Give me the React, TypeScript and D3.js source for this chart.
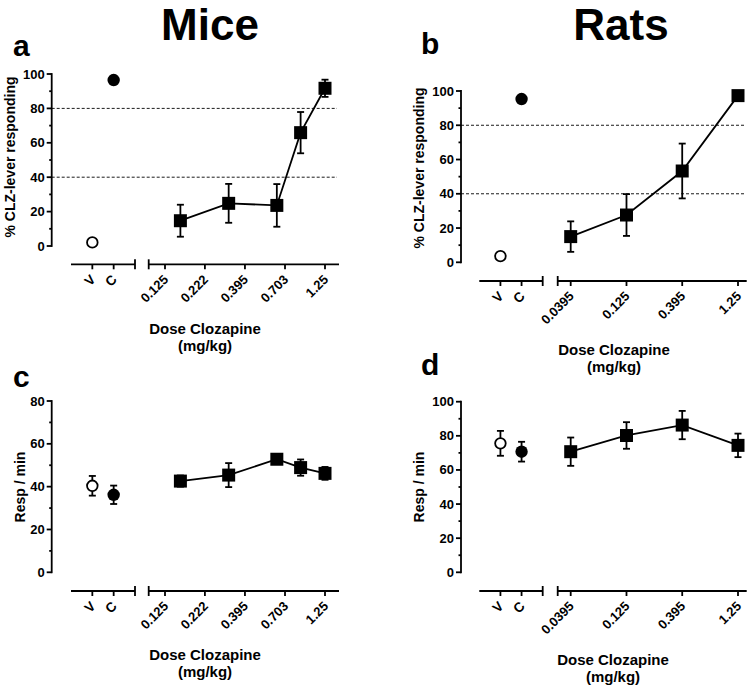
import React from 'react';
import * as d3 from 'd3';

const FONT = "'Liberation Sans', Arial, Helvetica, sans-serif";

// ---------- data ----------
const controlLabels = ['V', 'C'];

const miceDoseTicks = [0.125, 0.222, 0.395, 0.703, 1.25];
const miceDoseTickLabels = ['0.125', '0.222', '0.395', '0.703', '1.25'];
const miceDoses = [0.156, 0.3125, 0.625, 0.88, 1.25];

const ratsDoseTicks = [0.0395, 0.125, 0.395, 1.25];
const ratsDoseTickLabels = ['0.0395', '0.125', '0.395', '1.25'];
const ratsDoses = [0.0395, 0.125, 0.395, 1.25];

// panel a: mice % CLZ-lever responding
const miceLever = [14.7, 24.8, 23.6, 65.9, 91.7];
const miceLeverErr = [9.3, 11.3, 12.4, 12.0, 5.0];
const miceLeverControl = [2.1, 96.5];
const miceLeverControlErr = [0, 0];

// panel b: rats % CLZ-lever responding
const ratsLever = [15.0, 27.6, 53.3, 97.3];
const ratsLeverErr = [8.9, 12.2, 16.0, 2.0];
const ratsLeverControl = [3.6, 95.3];
const ratsLeverControlErr = [0, 0];

// panel c: mice response rate
const miceRate = [42.6, 45.4, 52.8, 48.9, 46.2];
const miceRateErr = [2.6, 5.6, 2.0, 3.8, 3.0];
const miceRateControl = [40.4, 36.2];
const miceRateControlErr = [4.6, 4.3];

// panel d: rats response rate
const ratsRate = [70.7, 80.2, 86.3, 74.4];
const ratsRateErr = [8.3, 7.8, 8.3, 6.9];
const ratsRateControl = [75.6, 70.7];
const ratsRateControlErr = [7.3, 5.8];

const leverYTicks = [0, 20, 40, 60, 80, 100];
const miceRateYTicks = [0, 20, 40, 60, 80];
const ratsRateYTicks = [0, 20, 40, 60, 80, 100];
const criterionLines = [40, 80];

// ---------- panel ----------
type Layout = {
  yAxisX: number;
  yTopPx: number;
  yZeroPx: number;
  axisY: number;
  leftSeg: [number, number];
  rightSeg: [number, number];
  tickPx: [number, number];
};

const mouseLayoutTop: Layout = { yAxisX: 51.7, yTopPx: 74, yZeroPx: 246, axisY: 264.3, leftSeg: [71, 135], rightSeg: [148.7, 339], tickPx: [165, 325] };
const ratLayoutTop: Layout = { yAxisX: 461, yTopPx: 91, yZeroPx: 262.3, axisY: 281, leftSeg: [479.3, 542.7], rightSeg: [557.7, 746.7], tickPx: [570.7, 738] };
const mouseLayoutBot: Layout = { yAxisX: 51.7, yTopPx: 401, yZeroPx: 572.3, axisY: 591, leftSeg: [71, 135], rightSeg: [148.7, 339], tickPx: [165, 325] };
const ratLayoutBot: Layout = { yAxisX: 461, yTopPx: 401.7, yZeroPx: 572.3, axisY: 591, leftSeg: [479.3, 542.7], rightSeg: [557.7, 746.7], tickPx: [570.7, 738] };

type PanelProps = {
  layout: Layout;
  yTicks: number[];
  yLabel: string;
  yLabelPos: [number, number];
  doseTicks: number[];
  doseTickLabels: string[];
  doses: number[];
  values: number[];
  errs: number[];
  control: number[];
  controlErr: number[];
  dashed?: number[];
  xTitlePos: [number, number];
};

const SW = 1.8;

function ErrorBar({ x, y0, y1 }: { x: number; y0: number; y1: number }) {
  const cw = 3.5;
  return (
    <g stroke="#000" strokeWidth={SW}>
      <line x1={x} x2={x} y1={y0} y2={y1} />
      <line x1={x - cw} x2={x + cw} y1={y0} y2={y0} />
      <line x1={x - cw} x2={x + cw} y1={y1} y2={y1} />
    </g>
  );
}

function Panel(p: PanelProps) {
  const L = p.layout;
  const yMax = p.yTicks[p.yTicks.length - 1];
  const y = d3.scaleLinear().domain([0, yMax]).range([L.yZeroPx, L.yTopPx]);
  const xc = d3.scalePoint<string>().domain(controlLabels).range(L.leftSeg).padding(1);
  const xd = d3
    .scaleLog()
    .domain([p.doseTicks[0], p.doseTicks[p.doseTicks.length - 1]])
    .range(L.tickPx);

  const minorTicks = d3.range(0, yMax + 0.001, 10).filter((v) => !p.yTicks.includes(v));
  const line = d3
    .line<number>()
    .x((_, i) => xd(p.doses[i]))
    .y((v) => y(v));
  const sq = d3.symbol(d3.symbolSquare, 13 * 13)();
  const capH = 5;

  return (
    <g fontFamily={FONT} fontWeight="bold">
      {/* dashed criterion lines */}
      {(p.dashed || []).map((v) => (
        <line key={'d' + v} x1={L.yAxisX} x2={L.rightSeg[1] - 2} y1={y(v)} y2={y(v)} stroke="#000" strokeWidth={0.9} strokeDasharray="3,2" />
      ))}
      {/* y axis */}
      <line x1={L.yAxisX} x2={L.yAxisX} y1={y(0) + SW / 2} y2={y(yMax) - SW / 2} stroke="#000" strokeWidth={SW} />
      {p.yTicks.map((v) => (
        <g key={'yt' + v}>
          <line x1={L.yAxisX - 5} x2={L.yAxisX} y1={y(v)} y2={y(v)} stroke="#000" strokeWidth={SW} />
          <text x={L.yAxisX - 7} y={y(v)} dy="0.35em" textAnchor="end" fontSize={13}>
            {v}
          </text>
        </g>
      ))}
      {minorTicks.map((v) => (
        <line key={'ym' + v} x1={L.yAxisX - 2.5} x2={L.yAxisX} y1={y(v)} y2={y(v)} stroke="#000" strokeWidth={SW} />
      ))}
      <text transform={`translate(${p.yLabelPos[0]},${p.yLabelPos[1]}) rotate(-90)`} textAnchor="middle" dy="0.35em" fontSize={14}>
        {p.yLabel}
      </text>

      {/* x axis: control segment */}
      <line x1={L.leftSeg[0]} x2={L.leftSeg[1]} y1={L.axisY} y2={L.axisY} stroke="#000" strokeWidth={SW} />
      <line x1={L.leftSeg[1]} x2={L.leftSeg[1]} y1={L.axisY - capH} y2={L.axisY + capH} stroke="#000" strokeWidth={SW} />
      {controlLabels.map((c) => (
        <g key={'xc' + c}>
          <line x1={xc(c)} x2={xc(c)} y1={L.axisY} y2={L.axisY + 5} stroke="#000" strokeWidth={SW} />
          <text transform={`translate(${(xc(c) as number) + 4},${L.axisY + 16}) rotate(-45)`} textAnchor="end" fontSize={13.5}>
            {c}
          </text>
        </g>
      ))}
      {/* x axis: dose segment */}
      <line x1={L.rightSeg[0]} x2={L.rightSeg[1]} y1={L.axisY} y2={L.axisY} stroke="#000" strokeWidth={SW} />
      <line x1={L.rightSeg[0]} x2={L.rightSeg[0]} y1={L.axisY - capH} y2={L.axisY + capH} stroke="#000" strokeWidth={SW} />
      {p.doseTicks.map((d, i) => (
        <g key={'xd' + d}>
          <line x1={xd(d)} x2={xd(d)} y1={L.axisY} y2={L.axisY + 5} stroke="#000" strokeWidth={SW} />
          <text transform={`translate(${xd(d) + 4},${L.axisY + 16}) rotate(-45)`} textAnchor="end" fontSize={13}>
            {p.doseTickLabels[i]}
          </text>
        </g>
      ))}
      <text x={p.xTitlePos[0]} y={p.xTitlePos[1]} textAnchor="middle" fontSize={15}>
        Dose Clozapine
      </text>
      <text x={p.xTitlePos[0]} y={p.xTitlePos[1] + 16.5} textAnchor="middle" fontSize={15}>
        (mg/kg)
      </text>

      {/* error bars */}
      {p.control.map((v, i) =>
        p.controlErr[i] > 0 ? (
          <ErrorBar key={'ce' + i} x={xc(controlLabels[i]) as number} y0={y(v - p.controlErr[i])} y1={y(v + p.controlErr[i])} />
        ) : null
      )}
      {p.values.map((v, i) => (
        <ErrorBar key={'de' + i} x={xd(p.doses[i])} y0={y(v - p.errs[i])} y1={y(v + p.errs[i])} />
      ))}
      {/* dose-response line */}
      <path d={line(p.values) || ''} fill="none" stroke="#000" strokeWidth={SW} />
      {/* squares */}
      {p.values.map((v, i) => (
        <path key={'sq' + i} d={sq || ''} transform={`translate(${xd(p.doses[i])},${y(v)})`} fill="#000" />
      ))}
      {/* control circles */}
      <circle cx={xc('V') as number} cy={y(p.control[0])} r={5.3} fill="#fff" stroke="#000" strokeWidth={1.8} />
      <circle cx={xc('C') as number} cy={y(p.control[1])} r={6.2} fill="#000" />
    </g>
  );
}

export default function App() {
  return (
    <svg width={750} height={690} style={{ position: 'absolute', left: 0, top: 0, background: '#fff' }}>
      <rect width={750} height={690} fill="#fff" />
      <g fontFamily={FONT} fontWeight="bold">
        <text x={210} y={40} textAnchor="middle" fontSize={44}>Mice</text>
        <text x={621} y={40} textAnchor="middle" fontSize={44}>Rats</text>
        <text x={13} y={56} fontSize={30}>a</text>
        <text x={421} y={54} fontSize={30}>b</text>
        <text x={13} y={387} fontSize={30}>c</text>
        <text x={421} y={375} fontSize={30}>d</text>
      </g>
      <Panel
        layout={mouseLayoutTop}
        yTicks={leverYTicks}
        yLabel="% CLZ-lever responding"
        yLabelPos={[10, 157]}
        doseTicks={miceDoseTicks}
        doseTickLabels={miceDoseTickLabels}
        doses={miceDoses}
        values={miceLever}
        errs={miceLeverErr}
        control={miceLeverControl}
        controlErr={miceLeverControlErr}
        dashed={criterionLines}
        xTitlePos={[205, 334]}
      />
      <Panel
        layout={ratLayoutTop}
        yTicks={leverYTicks}
        yLabel="% CLZ-lever responding"
        yLabelPos={[419, 168]}
        doseTicks={ratsDoseTicks}
        doseTickLabels={ratsDoseTickLabels}
        doses={ratsDoses}
        values={ratsLever}
        errs={ratsLeverErr}
        control={ratsLeverControl}
        controlErr={ratsLeverControlErr}
        dashed={criterionLines}
        xTitlePos={[614, 355]}
      />
      <Panel
        layout={mouseLayoutBot}
        yTicks={miceRateYTicks}
        yLabel="Resp / min"
        yLabelPos={[20, 487]}
        doseTicks={miceDoseTicks}
        doseTickLabels={miceDoseTickLabels}
        doses={miceDoses}
        values={miceRate}
        errs={miceRateErr}
        control={miceRateControl}
        controlErr={miceRateControlErr}
        xTitlePos={[205, 660]}
      />
      <Panel
        layout={ratLayoutBot}
        yTicks={ratsRateYTicks}
        yLabel="Resp / min"
        yLabelPos={[419, 487]}
        doseTicks={ratsDoseTicks}
        doseTickLabels={ratsDoseTickLabels}
        doses={ratsDoses}
        values={ratsRate}
        errs={ratsRateErr}
        control={ratsRateControl}
        controlErr={ratsRateControlErr}
        xTitlePos={[613, 665]}
      />
    </svg>
  );
}
